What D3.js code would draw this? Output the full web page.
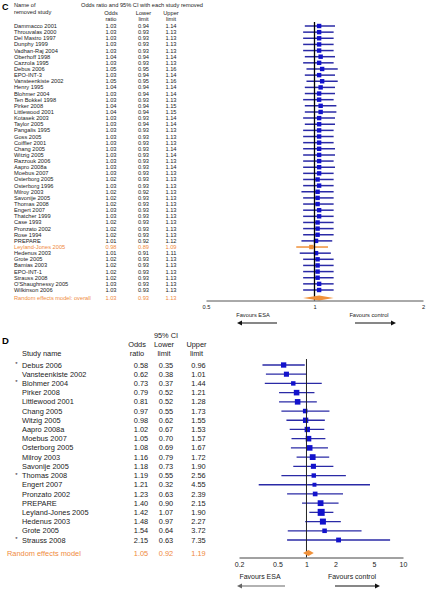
<!DOCTYPE html>
<html>
<head>
<meta charset="utf-8">
<script src="https://cdn.jsdelivr.net/npm/d3@7"></script>
<style>
  html, body { margin: 0; padding: 0; background: #fff; }
  svg { display: block; font-family: "Liberation Sans", Arial, Helvetica, sans-serif; }
</style>
</head>
<body>
<svg id="chart" width="426" height="589"></svg>
<script>
// ---------- Panel C data: leave-one-out ----------
const cStudies = ["Dammacco 2001","Throuvalas 2000","Del Mastro 1997","Dunphy 1999","Vadhan-Raj 2004","Oberhoff 1998","Cazzola 1995","Debus 2006","EPO-INT-3","Vansteenkiste 2002","Henry 1995","Blohmer 2004","Ten Bokkel 1998","Pirker 2008","Littlewood 2001","Kotasek 2003","Taylor 2005","Pangalis 1995","Goss 2005","Coiffier 2001","Chang 2005","Witzig 2005","Razzouk 2006","Aapro 2008a","Moebus 2007","Osterborg 2005","Osterborg 1996","Milroy 2003","Savonije 2005","Thomas 2008","Engert 2007","Thatcher 1999","Case 1993","Pronzato 2002","Rose 1994","PREPARE","Leyland-Jones 2005","Hedenus 2003","Grote 2005","Bamias 2003","EPO-INT-1","Strauss 2008","O'Shaughnessy 2005","Wilkinson 2006"];
const cOR    = [1.03,1.03,1.03,1.03,1.03,1.04,1.03,1.05,1.03,1.05,1.04,1.03,1.03,1.04,1.04,1.03,1.03,1.03,1.03,1.03,1.03,1.03,1.03,1.03,1.03,1.02,1.03,1.02,1.02,1.02,1.03,1.03,1.02,1.02,1.02,1.01,0.98,1.01,1.02,1.02,1.02,1.02,1.03,1.03];
const cLower = [0.94,0.93,0.93,0.93,0.93,0.94,0.93,0.95,0.94,0.95,0.94,0.94,0.93,0.94,0.94,0.93,0.94,0.93,0.93,0.93,0.93,0.93,0.93,0.93,0.93,0.93,0.93,0.92,0.93,0.93,0.93,0.93,0.93,0.93,0.93,0.92,0.89,0.91,0.93,0.93,0.93,0.93,0.93,0.93];
const cUpper = [1.14,1.13,1.13,1.13,1.13,1.14,1.13,1.16,1.14,1.16,1.14,1.14,1.13,1.15,1.15,1.14,1.14,1.13,1.13,1.13,1.14,1.14,1.13,1.14,1.13,1.13,1.13,1.13,1.13,1.13,1.13,1.13,1.13,1.13,1.13,1.12,1.09,1.11,1.13,1.13,1.13,1.13,1.13,1.13];
const cHighlight = "Leyland-Jones 2005";
const cOverall = { label: "Random effects model: overall", or: 1.03, lower: 0.93, upper: 1.13 };
const cTicks = [0.5, 1, 2];

// ---------- Panel D data: individual studies ----------
const dStudies = ["Debus 2006","Vansteenkiste 2002","Blohmer 2004","Pirker 2008","Littlewood 2001","Chang 2005","Witzig 2005","Aapro 2008a","Moebus 2007","Osterborg 2005","Milroy 2003","Savonije 2005","Thomas 2008","Engert 2007","Pronzato 2002","PREPARE","Leyland-Jones 2005","Hedenus 2003","Grote 2005","Strauss 2008"];
const dStar  = [true,false,true,false,false,false,false,false,false,false,false,false,true,false,false,false,false,false,false,true];
const dOR    = [0.58,0.62,0.73,0.79,0.81,0.97,0.98,1.02,1.05,1.08,1.16,1.18,1.19,1.21,1.23,1.40,1.42,1.48,1.54,2.15];
const dLower = [0.35,0.38,0.37,0.52,0.52,0.55,0.62,0.67,0.70,0.69,0.79,0.73,0.55,0.32,0.63,0.90,1.07,0.97,0.64,0.63];
const dUpper = [0.96,1.01,1.44,1.21,1.28,1.73,1.55,1.53,1.57,1.67,1.72,1.90,2.56,4.55,2.39,2.15,1.90,2.27,3.72,7.35];
const dWeight= [5.5,5.0,3.8,6.0,6.0,4.0,5.5,5.5,6.0,6.0,6.5,5.0,3.8,3.0,4.2,6.5,9.5,7.0,4.0,4.5];
const dOverall = { label: "Random effects model", or: 1.05, lower: 0.92, upper: 1.19 };
const dTicks = [0.2, 0.5, 1, 2, 5, 10];

const fmt = d3.format(".2f");
const BLUE_LINE = "#2a2aa6";
const BLUE_SQ = "#1212cc";
const ORANGE = "#f0913a";
const ORANGE_TXT = "#ef8a3c";

const svg = d3.select("#chart");

// ================= Panel C =================
(function () {
  const g = svg.append("g");
  const fs = 5.7;
  const colName = 14, colOR = 111, colLo = 143.5, colUp = 171;
  const x = d3.scaleLog().domain([0.5, 2]).range([206, 423]);
  const y = d3.scalePoint().domain(cStudies).range([26, 290]);
  const yOverall = 298;
  const axisY = 300.5;

  g.append("text").attr("x", 2).attr("y", 10).attr("font-size", 9).attr("font-weight", "bold").text("C");
  g.append("text").attr("x", colName).attr("y", 7).attr("font-size", fs).attr("fill", "#222").text("Name of");
  g.append("text").attr("x", colName).attr("y", 13.5).attr("font-size", fs).attr("fill", "#222").text("removed study");
  g.append("text").attr("x", 81).attr("y", 7).attr("font-size", fs).attr("fill", "#222").text("Odds ratio and 95% CI with each study removed");
  [[colOR, "Odds", "ratio"], [colLo, "Lower", "limit"], [colUp, "Upper", "limit"]].forEach(([cx, a, b]) => {
    g.append("text").attr("x", cx).attr("y", 15).attr("font-size", fs).attr("text-anchor", "middle").attr("fill", "#222").text(a);
    g.append("text").attr("x", cx).attr("y", 21).attr("font-size", fs).attr("text-anchor", "middle").attr("fill", "#222").text(b);
  });

  const rows = cStudies.map((s, i) => ({ s, or: cOR[i], lo: cLower[i], up: cUpper[i], hi: s === cHighlight }));
  const rg = g.selectAll("g.row").data(rows).join("g").attr("class", "row");
  rg.append("text").attr("x", colName).attr("y", d => y(d.s) + 2).attr("font-size", fs)
    .attr("fill", d => d.hi ? ORANGE_TXT : "#222").text(d => d.s);
  rg.append("text").attr("x", colOR).attr("y", d => y(d.s) + 2).attr("font-size", fs).attr("text-anchor", "middle")
    .attr("fill", d => d.hi ? ORANGE_TXT : "#222").text(d => fmt(d.or));
  rg.append("text").attr("x", colLo).attr("y", d => y(d.s) + 2).attr("font-size", fs).attr("text-anchor", "middle")
    .attr("fill", d => d.hi ? ORANGE_TXT : "#222").text(d => fmt(d.lo));
  rg.append("text").attr("x", colUp).attr("y", d => y(d.s) + 2).attr("font-size", fs).attr("text-anchor", "middle")
    .attr("fill", d => d.hi ? ORANGE_TXT : "#222").text(d => fmt(d.up));

  g.append("text").attr("x", colName).attr("y", yOverall + 2).attr("font-size", fs).attr("fill", ORANGE_TXT).text(cOverall.label);
  [[colOR, cOverall.or], [colLo, cOverall.lower], [colUp, cOverall.upper]].forEach(([cx, v]) => {
    g.append("text").attr("x", cx).attr("y", yOverall + 2).attr("font-size", fs).attr("text-anchor", "middle").attr("fill", ORANGE_TXT).text(fmt(v));
  });

  rg.append("line").attr("x1", d => x(d.lo)).attr("x2", d => x(d.up))
    .attr("y1", d => y(d.s)).attr("y2", d => y(d.s))
    .attr("stroke", d => d.hi ? ORANGE : BLUE_LINE).attr("stroke-width", 1.5);
  g.append("line").attr("x1", x(1)).attr("x2", x(1)).attr("y1", 22).attr("y2", axisY).attr("stroke", "#000").attr("stroke-width", 1.3);
  const sq = 4.4;
  rg.append("rect").attr("x", d => x(d.or) - sq / 2).attr("y", d => y(d.s) - sq / 2)
    .attr("width", sq).attr("height", sq).attr("fill", d => d.hi ? ORANGE : BLUE_SQ);

  const dh = 2.6;
  g.append("path").attr("fill", ORANGE).attr("d",
    `M${x(cOverall.lower)},${yOverall}L${x(cOverall.or)},${yOverall - dh}L${x(cOverall.upper)},${yOverall}L${x(cOverall.or)},${yOverall + dh}Z`);

  const ax = g.append("g").attr("transform", `translate(0,${axisY})`)
    .call(d3.axisBottom(x).tickValues(cTicks).tickFormat(d3.format("")).tickSize(0).tickPadding(4));
  ax.select(".domain").attr("stroke", "#555").attr("stroke-width", 1);
  ax.selectAll("text").attr("font-size", fs).attr("fill", "#222").attr("font-family", "Liberation Sans, Arial, sans-serif");

  g.append("text").attr("x", 253).attr("y", 317).attr("font-size", fs).attr("text-anchor", "middle").attr("fill", "#222").text("Favours ESA");
  g.append("text").attr("x", 369).attr("y", 317).attr("font-size", fs).attr("text-anchor", "middle").attr("fill", "#222").text("Favours control");
  drawArrow(g, 277, 237, 323, "#111");
  drawArrow(g, 355, 396, 323, "#111");
})();

// ================= Panel D =================
(function () {
  const g = svg.append("g");
  const fs = 7.4;
  const colName = 22, colOR = 141, colLo = 166, colUp = 198.5;
  const x = d3.scaleLog().domain([0.2, 10]).range([239, 403]);
  const y = d3.scalePoint().domain(dStudies).range([365, 540]);
  const yOverall = 553;
  const axisY = 557.5;

  g.append("text").attr("x", 2).attr("y", 344).attr("font-size", 9.5).attr("font-weight", "bold").text("D");
  g.append("text").attr("x", 166).attr("y", 338).attr("font-size", fs).attr("text-anchor", "middle").attr("fill", "#222").text("95% CI");
  [[colOR - 4, "Odds", "ratio"], [colLo - 2, "Lower", "limit"], [colUp - 2, "Upper", "limit"]].forEach(([cx, a, b]) => {
    g.append("text").attr("x", cx).attr("y", 347).attr("font-size", fs).attr("text-anchor", "middle").attr("fill", "#222").text(a);
    g.append("text").attr("x", cx).attr("y", 355.5).attr("font-size", fs).attr("text-anchor", "middle").attr("fill", "#222").text(b);
  });
  g.append("text").attr("x", colName).attr("y", 355.5).attr("font-size", fs).attr("fill", "#222").text("Study name");

  const rows = dStudies.map((s, i) => ({ s, star: dStar[i], or: dOR[i], lo: dLower[i], up: dUpper[i], w: dWeight[i] }));
  const size = d3.scaleSqrt().domain([0, d3.max(dWeight)]).range([0, 7]);
  const rg = g.selectAll("g.row").data(rows).join("g").attr("class", "row");
  rg.filter(d => d.star).append("text").attr("x", 16.5).attr("y", d => y(d.s) + 1).attr("font-size", 6).attr("text-anchor", "middle").attr("fill", "#222").text("*");
  rg.append("text").attr("x", colName).attr("y", d => y(d.s) + 2.6).attr("font-size", fs).attr("fill", "#222").text(d => d.s);
  rg.append("text").attr("x", colOR).attr("y", d => y(d.s) + 2.6).attr("font-size", fs).attr("text-anchor", "middle").attr("fill", "#222").text(d => fmt(d.or));
  rg.append("text").attr("x", colLo).attr("y", d => y(d.s) + 2.6).attr("font-size", fs).attr("text-anchor", "middle").attr("fill", "#222").text(d => fmt(d.lo));
  rg.append("text").attr("x", colUp).attr("y", d => y(d.s) + 2.6).attr("font-size", fs).attr("text-anchor", "middle").attr("fill", "#222").text(d => fmt(d.up));

  g.append("text").attr("x", 7).attr("y", yOverall + 2.6).attr("font-size", fs).attr("fill", ORANGE_TXT).text(dOverall.label);
  [[colOR, dOverall.or], [colLo, dOverall.lower], [colUp, dOverall.upper]].forEach(([cx, v]) => {
    g.append("text").attr("x", cx).attr("y", yOverall + 2.6).attr("font-size", fs).attr("text-anchor", "middle").attr("fill", ORANGE_TXT).text(fmt(v));
  });

  rg.append("line").attr("x1", d => x(d.lo)).attr("x2", d => x(d.up))
    .attr("y1", d => y(d.s)).attr("y2", d => y(d.s))
    .attr("stroke", BLUE_LINE).attr("stroke-width", 1.3);
  g.append("line").attr("x1", x(1)).attr("x2", x(1)).attr("y1", 359).attr("y2", axisY).attr("stroke", "#222").attr("stroke-width", 1);
  rg.append("rect").attr("x", d => x(d.or) - size(d.w) / 2).attr("y", d => y(d.s) - size(d.w) / 2)
    .attr("width", d => size(d.w)).attr("height", d => size(d.w)).attr("fill", BLUE_SQ);

  const dh = 3;
  g.append("path").attr("fill", ORANGE).attr("d",
    `M${x(dOverall.lower)},${yOverall}L${x(dOverall.or)},${yOverall - dh}L${x(dOverall.upper)},${yOverall}L${x(dOverall.or)},${yOverall + dh}Z`);

  const ax = g.append("g").attr("transform", `translate(0,${axisY})`)
    .call(d3.axisBottom(x).tickValues(dTicks).tickFormat(d3.format("")).tickSize(0).tickPadding(5));
  ax.select(".domain").attr("stroke", "#444").attr("stroke-width", 1);
  ax.selectAll("text").attr("font-size", 7).attr("fill", "#222").attr("font-family", "Liberation Sans, Arial, sans-serif");

  g.append("text").attr("x", 260).attr("y", 579).attr("font-size", 7).attr("text-anchor", "middle").attr("fill", "#222").text("Favours ESA");
  g.append("text").attr("x", 352).attr("y", 579).attr("font-size", 7).attr("text-anchor", "middle").attr("fill", "#222").text("Favours control");
  drawArrow(g, 285, 237, 586, "#666");
  drawArrow(g, 335, 380, 586, "#111");
})();

function drawArrow(g, x1, x2, yy, color) {
  const dir = x2 > x1 ? 1 : -1;
  g.append("line").attr("x1", x1).attr("x2", x2 - dir * 3).attr("y1", yy).attr("y2", yy).attr("stroke", color).attr("stroke-width", 1.2);
  g.append("path").attr("fill", color)
    .attr("d", `M${x2},${yy}L${x2 - dir * 5},${yy - 2.5}L${x2 - dir * 5},${yy + 2.5}Z`);
}
</script>
</body>
</html>
